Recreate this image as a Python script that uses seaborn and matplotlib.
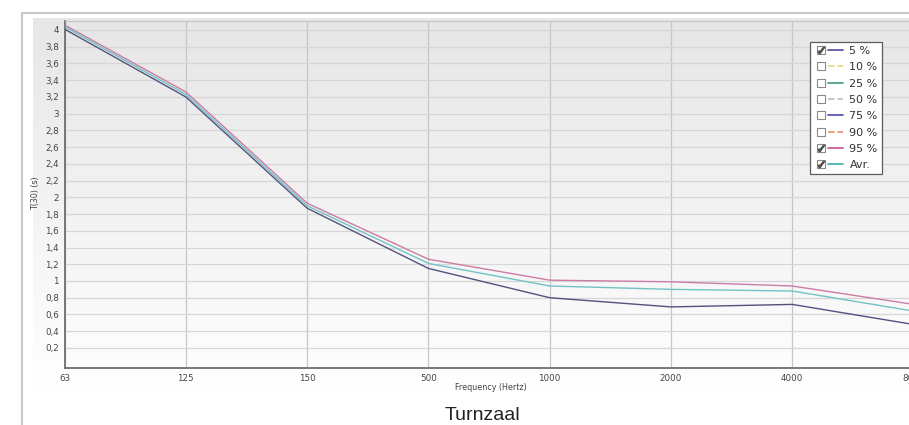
import numpy as np
import pandas as pd
import seaborn as sns
import matplotlib.pyplot as plt
from matplotlib.lines import Line2D
from matplotlib.legend_handler import HandlerTuple
from matplotlib.colors import LinearSegmentedColormap

# T(30) per octave band
freq_labels = ['63', '125', '150', '500', '1000', '2000', '4000', '8000']
t30_p5 = [4.01, 3.20, 1.87, 1.15, 0.80, 0.69, 0.72, 0.48]
t30_p95 = [4.06, 3.26, 1.93, 1.26, 1.01, 0.99, 0.94, 0.72]
t30_avg = [4.04, 3.23, 1.90, 1.21, 0.94, 0.90, 0.88, 0.64]

legend_labels = ['5 %', '10 %', '25 %', '50 %', '75 %', '90 %', '95 %', 'Avr.']
legend_checked = [True, False, False, False, False, False, True, True]
legend_colors = ['#5a5aa0', '#e6d98c', '#4aa585', '#c4c4c4', '#5858b4', '#e89a78', '#c8609a', '#4fb0b0']
legend_styles = ['-', '--', '-', '--', '-', '--', '-', '-']

y_ticks = np.round(np.arange(0.2, 4.01, 0.2), 1)

sns.set_style('white')
plt.rcParams['font.family'] = ['DejaVu Sans']

bands = np.arange(len(freq_labels))
df = pd.DataFrame({
    'band': np.concatenate([bands, bands, bands]),
    'T30': t30_p5 + t30_p95 + t30_avg,
    'series': ['5 %'] * len(bands) + ['95 %'] * len(bands) + ['Avr.'] * len(bands),
})
line_colors = {'5 %': '#52527e', '95 %': '#cc7ca4', 'Avr.': '#72c2c4'}

W, H = 909, 425
fig = plt.figure(figsize=(W / 100, H / 100), dpi=100)
fig.patch.set_facecolor('white')

# outer frame of the chart control
fig.add_artist(Line2D([22 / W, 1], [1 - 13 / H, 1 - 13 / H], color='#c8c8c8', lw=1.5))
fig.add_artist(Line2D([22 / W, 22 / W], [0, 1 - 13 / H], color='#c8c8c8', lw=1.5))

# grey chart background behind tick labels
bg = fig.add_axes([33 / W, 1 - 392 / H, 1 - 33 / W, (392 - 18) / H], zorder=0)
bg.imshow(np.linspace(0, 1, 256).reshape(-1, 1),
          cmap=LinearSegmentedColormap.from_list('bg', ['#e7e7e7', '#f3f3f3', '#ffffff']),
          extent=[0, 1, 0, 1], aspect='auto')
bg.axis('off')

x_step = 121.3
ax = fig.add_axes([64.5 / W, 1 - 368 / H, 7.3 * x_step / W, (368 - 21) / H], zorder=1)
ax.imshow(np.linspace(0, 1, 256).reshape(-1, 1),
          cmap=LinearSegmentedColormap.from_list('plot', ['#e6e6e6', '#fdfdfd']),
          extent=[0, 1, 0, 1], transform=ax.transAxes, aspect='auto', zorder=0)

sns.lineplot(data=df, x='band', y='T30', hue='series', palette=line_colors,
             linewidth=1.0, legend=False, ax=ax, zorder=3)

ax.set_xlim(0, 7.3)
ax.set_ylim(-0.04, 4.107)
ax.set_xticks(bands)
ax.set_xticklabels(freq_labels)
ax.set_yticks(y_ticks)
ax.set_yticklabels([f'{v:g}'.replace('.', ',') for v in y_ticks])
ax.tick_params(length=0, labelsize=6.3, colors='#454545', pad=4)
ax.set_xlabel('')
ax.set_ylabel('')
ax.xaxis.grid(True, color='#c6c6c6', lw=0.9, zorder=1)
ax.yaxis.grid(True, color='#d6d6d6', lw=0.9, zorder=1)
ax.set_axisbelow(True)
for side in ['left', 'bottom']:
    ax.spines[side].set_color('#6e6e6e')
    ax.spines[side].set_linewidth(1.3)
ax.spines['top'].set_color('#c4c4c4')
ax.spines['right'].set_visible(False)

# legend with check boxes
handles = []
hmap = {}
for lab, chk, col, ls in zip(legend_labels, legend_checked, legend_colors, legend_styles):
    box = Line2D([], [], marker='s', markersize=5.5, markerfacecolor='white',
                 markeredgecolor='#8a8a8a', markeredgewidth=0.8, linestyle='none')
    if chk:
        tick = Line2D([], [], marker='$\\checkmark$', markersize=4.5, color='#505050', linestyle='none')
        first = (box, tick)
    else:
        first = box
    sample = Line2D([], [], color=col, lw=1.3, linestyle=ls)
    h = (first, sample)
    handles.append(h)
    hmap[h] = HandlerTuple(ndivide=None, pad=0.0)

leg = ax.legend(handles, legend_labels, handler_map=hmap, loc='upper left',
                bbox_to_anchor=(810 / W, 1 - 42 / H), bbox_transform=fig.transFigure,
                fontsize=8, labelspacing=0.57, handlelength=2.6, handletextpad=0.6,
                borderpad=0.35, borderaxespad=0, frameon=True, fancybox=False,
                edgecolor='#5c5c5c', facecolor='white', framealpha=1)
leg.get_frame().set_linewidth(0.9)
for t in leg.get_texts():
    t.set_color('#333333')

fig.text(36 / W, 1 - 193 / H, 'T(30) (s)', rotation=90, fontsize=5.8,
         color='#454545', ha='center', va='center')
fig.text(491 / W, 1 - 388 / H, 'Frequency (Hertz)', fontsize=5.8,
         color='#454545', ha='center', va='center')
fig.text(482 / W, 1 - 416 / H, 'Turnzaal', fontsize=14, family=['Liberation Sans'],
         color='#222222', ha='center', va='center')

fig.savefig('out.png', dpi=100)
